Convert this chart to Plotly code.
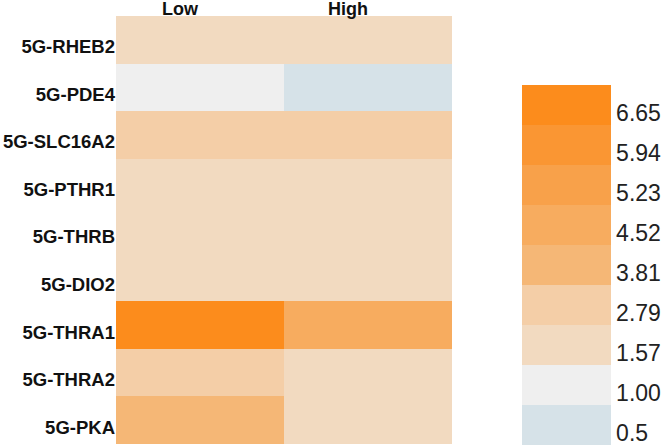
import numpy as np
import plotly.graph_objects as go

genes = ["5G-RHEB2", "5G-PDE4", "5G-SLC16A2", "5G-PTHR1", "5G-THRB",
         "5G-DIO2", "5G-THRA1", "5G-THRA2", "5G-PKA"]
groups = ["Low", "High"]

low_vals = [2.1, 1.2, 3.0, 2.0, 1.9, 1.8, 6.9, 3.1, 4.1]
high_vals = [2.2, 0.8, 2.9, 2.1, 2.0, 1.9, 4.7, 2.2, 2.0]

bin_labels = [0.5, 1.00, 1.57, 2.79, 3.81, 4.52, 5.23, 5.94, 6.65]
bin_text = ["0.5", "1.00", "1.57", "2.79", "3.81", "4.52", "5.23", "5.94", "6.65"]
bin_colors = ["#d6e2e8", "#efefef", "#f2dac0", "#f4cea7", "#f5b776",
              "#f7ac5f", "#f8a14a", "#fa9633", "#fc8c1c"]

vals = np.array([low_vals, high_vals]).T
idx = np.digitize(vals, bin_labels[1:])  # bin index 0..8

n = len(bin_colors)
cs = []
for i, c in enumerate(bin_colors):
    cs.append([i / n, c])
    cs.append([(i + 1) / n, c])

FONT = "Liberation Sans, Arial, sans-serif"

fig = go.Figure(go.Heatmap(
    z=idx, x=groups, y=genes, customdata=vals,
    colorscale=cs, zmin=0, zmax=n,
    hovertemplate="%{y} %{x}: %{customdata}<extra></extra>",
    colorbar=dict(
        x=(522 - 116) / 336, xanchor="left", xpad=0,
        y=-1 / 428, yanchor="bottom", ypad=0,
        lenmode="pixels", len=360,
        thicknessmode="pixels", thickness=89,
        outlinewidth=0,
        tickvals=[i + 0.3 for i in range(n)], ticktext=bin_text,
        ticks="", ticklen=0, ticklabeloverflow="allow",
        tickfont=dict(family=FONT, size=23, color="#222222"),
    ),
))

fig.update_layout(
    width=666, height=446,
    margin=dict(l=116, r=214, t=16, b=2, autoexpand=False),
    paper_bgcolor="white", plot_bgcolor="white",
    showlegend=False,
)
fig.update_xaxes(side="top", showgrid=False, zeroline=False, ticks="",
                 automargin=False,
                 ticklabelshift=-20, ticklabelstandoff=-4,
                 tickfont=dict(family=FONT, size=18, color="#111111", weight="bold"))
fig.update_yaxes(autorange="reversed", showgrid=False, zeroline=False, ticks="",
                 automargin=False,
                 ticklabelshift=-7,
                 tickfont=dict(family=FONT, size=18.5, color="#111111", weight="bold"))

fig.write_html("out.html", config={"displayModeBar": False},
               post_script="document.body.style.margin='0';")
